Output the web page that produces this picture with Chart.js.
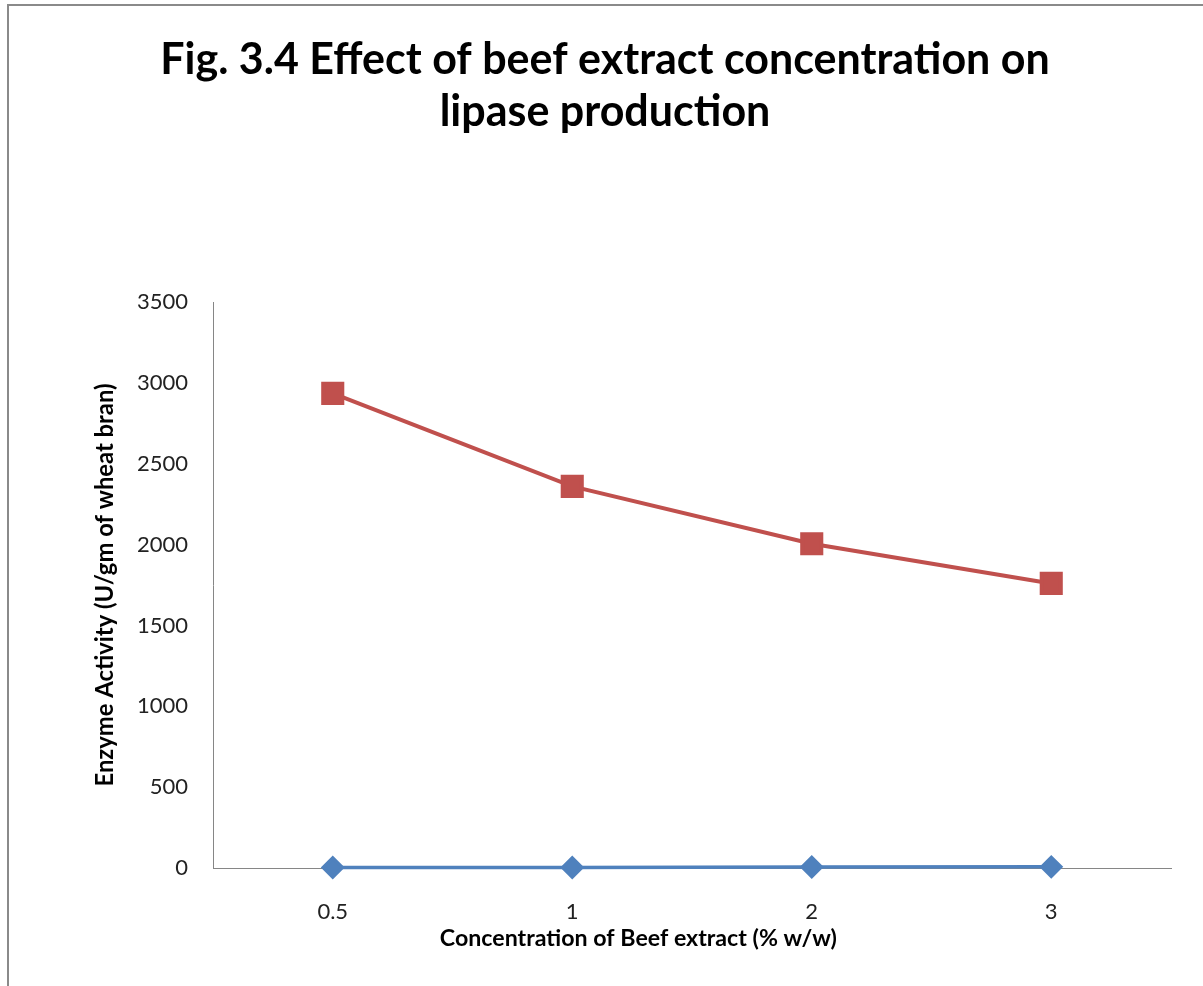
<!DOCTYPE html>
<html>
<head>
<meta charset="utf-8">
<script src="https://cdn.jsdelivr.net/npm/chart.js@4"></script>
<style>
  html, body { margin: 0; padding: 0; background: #fff; }
  #wrap { position: relative; width: 1203px; height: 986px; }
  #frame { position: absolute; left: 7px; top: 4px; right: 0; bottom: 0;
           border-left: 2px solid #8a8a8a; border-top: 2px solid #8a8a8a; pointer-events: none; }
  canvas { position: absolute; left: 0; top: 0; }
</style>
</head>
<body>
<div id="wrap">
  <canvas id="c" width="1203" height="986"></canvas>
  <div id="frame"></div>
</div>
<script>
const categories = ['0.5', '1', '2', '3'];
const seriesA = [3, 3, 6, 7];              // blue series (near zero)
const seriesB = [2935, 2360, 2005, 1760];  // red series
const yMin = 0, yMax = 3500, yStep = 500;
const titleLines = ['Fig. 3.4 Effect of beef extract concentration on', 'lipase production'];
const xTitle = 'Concentration of Beef extract (% w/w)';
const yTitle = 'Enzyme Activity (U/gm of wheat bran)';

const FONT = 'Lato, "Open Sans", sans-serif';

const xTitlePlugin = {
  id: 'xTitlePlugin',
  afterDraw(chart) {
    const { ctx, chartArea } = chart;
    ctx.save();
    ctx.font = 'bold 23.2px ' + FONT;
    ctx.fillStyle = '#000';
    ctx.textAlign = 'center';
    ctx.textBaseline = 'middle';
    const x = chartArea.left + (chartArea.right - chartArea.left) * 0.444;
    ctx.fillText(xTitle, x, chartArea.bottom + 71);
    ctx.restore();
  }
};

new Chart(document.getElementById('c'), {
  type: 'line',
  data: {
    labels: categories,
    datasets: [
      {
        label: 'Series1',
        data: seriesA,
        borderColor: '#4F81BD',
        backgroundColor: '#4F81BD',
        borderWidth: 3.5,
        pointStyle: 'rectRot',
        pointRadius: 9.5,
        pointHoverRadius: 9.5,
        tension: 0,
        clip: false
      },
      {
        label: 'Series2',
        data: seriesB,
        borderColor: '#C0504D',
        backgroundColor: '#C0504D',
        borderWidth: 4,
        pointStyle: 'rect',
        pointRadius: 13.5,
        pointHoverRadius: 13.5,
        tension: 0,
        clip: false
      }
    ]
  },
  options: {
    responsive: false,
    animation: false,
    layout: { padding: { left: 39, right: 32, top: 0, bottom: 0 } },
    plugins: {
      legend: { display: false },
      tooltip: { enabled: false },
      title: {
        display: true,
        text: titleLines,
        color: '#000',
        font: { family: FONT, size: 43, weight: 'bold', lineHeight: 1.21 },
        padding: { top: 34, bottom: 164 }
      }
    },
    scales: {
      x: {
        offset: true,
        grid: { display: false },
        border: { display: true, color: '#868686', width: 1 },
        ticks: { color: '#222', padding: 23, font: { family: FONT, size: 22 } },
        afterFit(s) { s.height = 118; }
      },
      y: {
        min: yMin, max: yMax,
        grid: { display: false },
        border: { display: true, color: '#868686', width: 1 },
        ticks: { stepSize: yStep, color: '#222', padding: 17, font: { family: FONT, size: 22 },
                 callback: v => String(v) },
        title: {
          display: true,
          text: yTitle,
          color: '#000',
          font: { family: FONT, size: 23.8, weight: 'bold', lineHeight: 1.2 },
          padding: { top: 52, bottom: 0 }
        },
        afterFit(s) { s.width = 174; }
      }
    }
  },
  plugins: [xTitlePlugin]
});
</script>
</body>
</html>
